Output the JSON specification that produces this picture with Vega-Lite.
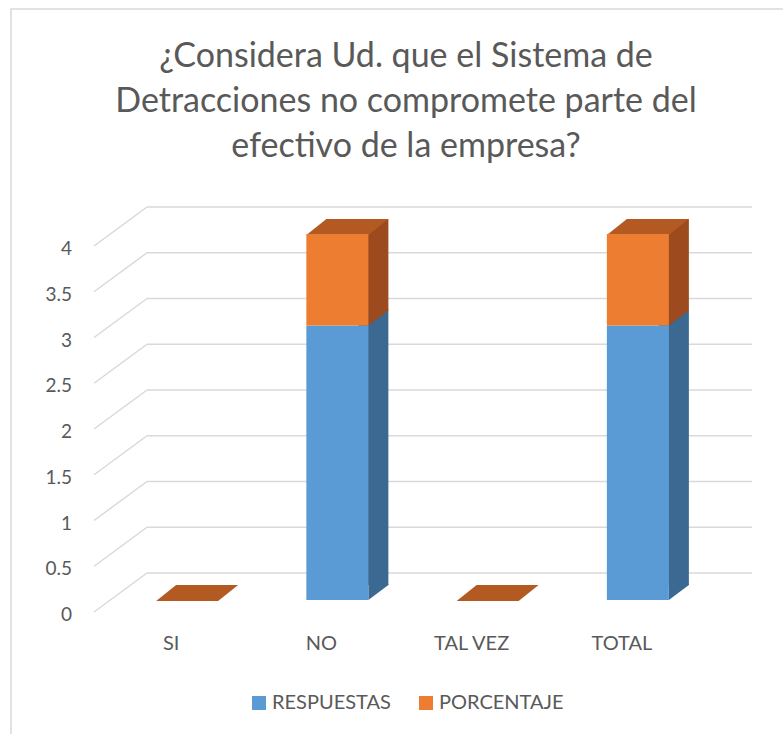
{
  "$schema": "https://vega.github.io/schema/vega-lite/v6.json",
  "width": 790,
  "height": 740,
  "padding": {"left": 11, "top": 9, "right": 0, "bottom": 0},
  "background": "white",
  "config": {
    "view": {"stroke": "#D9D9D9", "strokeWidth": 1.5},
    "font": "Lato"
  },
  "title": {
    "text": ["¿Considera Ud. que el Sistema de", "Detracciones no compromete parte del", "efectivo de la empresa?"],
    "font": "Lato",
    "fontSize": 34,
    "fontWeight": "normal",
    "color": "#595959",
    "anchor": "middle",
    "frame": "group",
    "baseline": "top",
    "lineHeight": 45,
    "offset": -155
  },
  "data": {
    "values": [
      {"cat": "SI", "serie": "RESPUESTAS", "v": 0},
      {"cat": "SI", "serie": "PORCENTAJE", "v": 0},
      {"cat": "NO", "serie": "RESPUESTAS", "v": 3},
      {"cat": "NO", "serie": "PORCENTAJE", "v": 1},
      {"cat": "TAL VEZ", "serie": "RESPUESTAS", "v": 0},
      {"cat": "TAL VEZ", "serie": "PORCENTAJE", "v": 0},
      {"cat": "TOTAL", "serie": "RESPUESTAS", "v": 3},
      {"cat": "TOTAL", "serie": "PORCENTAJE", "v": 1}
    ]
  },
  "transform": [
    {"stack": "v", "groupby": ["cat"], "sort": [{"field": "serie", "order": "descending"}], "as": ["v0", "v1"]}
  ],
  "layer": [
    {
      "data": {"values": [{"g": 0}, {"g": 0.5}, {"g": 1}, {"g": 1.5}, {"g": 2}, {"g": 2.5}, {"g": 3}, {"g": 3.5}, {"g": 4}]},
      "transform": [],
      "mark": {"type": "rule", "color": "#D9D9D9", "strokeWidth": 1.5, "yOffset": -39, "y2Offset": -39},
      "encoding": {
        "x": {"value": 136},
        "x2": {"value": 741},
        "y": {"field": "g", "type": "quantitative", "scale": {"domain": [0, 4], "range": [603, 237], "nice": false, "zero": true}, "axis": null},
        "y2": {"field": "g"}
      }
    },
    {
      "data": {"values": [{"g": 0}, {"g": 0.5}, {"g": 1}, {"g": 1.5}, {"g": 2}, {"g": 2.5}, {"g": 3}, {"g": 3.5}, {"g": 4}]},
      "transform": [],
      "mark": {"type": "rule", "color": "#D9D9D9", "strokeWidth": 1.5, "y2Offset": -39},
      "encoding": {
        "x": {"value": 83},
        "x2": {"value": 136},
        "y": {"field": "g", "type": "quantitative", "axis": null},
        "y2": {"field": "g"}
      }
    },
    {
      "data": {"values": [{"g": 0}, {"g": 0.5}, {"g": 1}, {"g": 1.5}, {"g": 2}, {"g": 2.5}, {"g": 3}, {"g": 3.5}, {"g": 4}]},
      "transform": [],
      "mark": {"type": "text", "font": "Lato", "fontSize": 19, "color": "#595959", "align": "right", "baseline": "middle", "dy": 3},
      "encoding": {
        "x": {"value": 61},
        "y": {"field": "g", "type": "quantitative", "axis": null},
        "text": {"field": "g", "type": "quantitative", "format": "~g"}
      }
    },
    {
      "transform": [{"filter": "datum.v > 0"}],
      "mark": {"type": "bar", "width": 30, "xOffset": 52, "yOffset": -27, "y2Offset": -27},
      "encoding": {
        "x": {"field": "cat", "type": "nominal", "sort": ["SI", "NO", "TAL VEZ", "TOTAL"], "scale": {"range": [85, 686], "paddingInner": 0.587, "paddingOuter": 0.2935}, "axis": null},
        "y": {"field": "v1", "type": "quantitative", "axis": null},
        "y2": {"field": "v0"},
        "color": {"condition": {"test": "datum.serie == 'RESPUESTAS'", "value": "#3C6991"}, "value": "#9C4A1E"}
      }
    },
    {
      "transform": [{"filter": "datum.v > 0"}],
      "mark": {"type": "point", "shape": "M0,0L0,-16L20,-16L20,-15Z", "size": 4, "filled": true, "opacity": 1, "strokeWidth": 0, "xOffset": 47, "yOffset": -12},
      "encoding": {
        "x": {"field": "cat", "type": "nominal", "sort": ["SI", "NO", "TAL VEZ", "TOTAL"], "axis": null},
        "y": {"field": "v0", "type": "quantitative", "axis": null},
        "color": {"condition": {"test": "datum.serie == 'RESPUESTAS'", "value": "#3C6991"}, "value": "#9C4A1E"}
      }
    },
    {
      "transform": [{"filter": "datum.serie == 'PORCENTAJE'"}],
      "mark": {"type": "point", "shape": "M-31,1L31,1L51,-15L-11,-15Z", "size": 4, "filled": true, "opacity": 1, "strokeWidth": 0, "xOffset": 16, "yOffset": -12, "color": "#B35A23"},
      "encoding": {
        "x": {"field": "cat", "type": "nominal", "sort": ["SI", "NO", "TAL VEZ", "TOTAL"], "axis": null},
        "y": {"field": "v1", "type": "quantitative", "axis": null}
      }
    },
    {
      "mark": {"type": "bar", "xOffset": 16, "yOffset": -12, "y2Offset": -12},
      "encoding": {
        "x": {"field": "cat", "type": "nominal", "sort": ["SI", "NO", "TAL VEZ", "TOTAL"], "axis": null},
        "y": {"field": "v1", "type": "quantitative", "axis": null},
        "y2": {"field": "v0"},
        "color": {
          "field": "serie", "type": "nominal",
          "scale": {"domain": ["RESPUESTAS", "PORCENTAJE"], "range": ["#5B9BD5", "#ED7D31"]},
          "legend": {"title": null, "orient": "none", "legendX": 238, "legendY": 684, "direction": "horizontal", "symbolType": "square", "symbolSize": 196, "symbolStrokeWidth": 0, "labelFont": "Lato", "labelFontSize": 20, "labelColor": "#595959", "labelOffset": 3, "columnPadding": 25, "padding": 0}
        }
      }
    },
    {
      "transform": [{"filter": "datum.serie == 'RESPUESTAS'"}],
      "mark": {"type": "text", "font": "Lato", "fontSize": 20, "color": "#595959", "align": "center", "baseline": "middle", "dy": 32},
      "encoding": {
        "x": {"field": "cat", "type": "nominal", "sort": ["SI", "NO", "TAL VEZ", "TOTAL"], "axis": null},
        "y": {"datum": 0, "type": "quantitative", "axis": null},
        "text": {"field": "cat", "type": "nominal"}
      }
    }
  ]
}
